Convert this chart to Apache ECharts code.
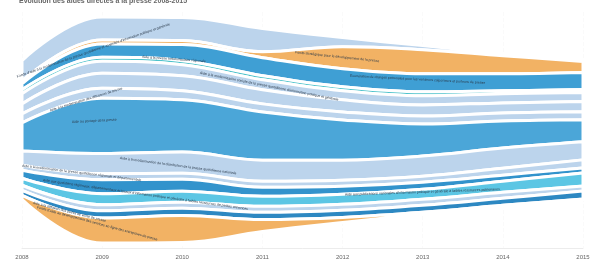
<!DOCTYPE html>
<html>
<head>
<meta charset="utf-8">
<title>Aides à la presse 2008-2015</title>
<script src="https://cdn.jsdelivr.net/npm/echarts@6/dist/echarts.min.js"></script>
<style>
  html, body { margin: 0; padding: 0; background: #fff; }
  #chart { width: 599px; height: 260px; }
</style>
</head>
<body>
<div id="chart"></div>
<script>
// années de l'axe
const years = [2008, 2009, 2010, 2011, 2012, 2013, 2014, 2015];

// noms des aides, dans l'ordre des flux (haut -> bas)
const names = [
  "Fonds d'aide à la modernisation de la presse quotidienne et assimilée d'information politique et générale",
  "Fonds stratégique pour le développement de la presse",
  "Exonération de charges patronales pour les vendeurs colporteurs et porteurs de presse",
  "Fonds d'aide à l'expansion de la presse française à l'étranger",
  "Aide à la presse hebdomadaire régionale",
  "Aide à la modernisation sociale de la presse quotidienne d'information politique et générale",
  "Aide à la modernisation des diffuseurs de presse",
  "Aide au portage de la presse",
  "Aide à la modernisation de la distribution de la presse quotidienne nationale",
  "Aide à la modernisation de la presse quotidienne régionale et départementale",
  "Aide aux quotidiens régionaux, départementaux et locaux d'information politique et générale à faibles ressources de petites annonces",
  "Aide aux publications nationales d'information politique et générale à faibles ressources publicitaires",
  "Aide à la distribution de la presse quotidienne d'information politique et générale",
  "Aide à la diffusion des points de vente de presse",
  "Fonds d'aide au développement des services en ligne des entreprises de presse"
];

// valeurs par année (estimées)
const fondsModernisation = [20, 23, 23, 23, 9, 4, 2, 1];
const fondsStrategique   = [3, 4, 4, 6, 22, 24, 18, 11];
const exoneration        = [6, 13, 16, 18, 18, 18, 17, 17];
const expansion          = [4, 4, 4, 4, 4, 4, 3, 3];
const hebdoRegionale     = [10, 12, 11, 10, 9, 9, 9, 9];
const modernSociale      = [10, 15, 15, 14, 12, 11, 10, 10];
const diffuseurs         = [9, 10, 9, 8, 8, 8, 8, 8];
const portage            = [28, 55, 52, 48, 40, 32, 27, 22];
const distributionPQN    = [14, 20, 21, 21, 20, 20, 20, 18];
const modernPQR          = [5, 6, 6, 6, 6, 6, 7, 8];
const petitesAnnonces    = [8, 14, 12, 9, 8, 7, 6, 5];
const faiblesRessources  = [7, 11, 11, 10, 10, 10, 11, 13];
const distributionIPG    = [5, 6, 6, 6, 6, 6, 6, 5];
const pointsDeVente      = [5, 7, 7, 7, 7, 7, 7, 8];
const servicesEnLigne    = [4, 25, 27, 12, 5, 2, 1, 0.5];

const layers = [
  fondsModernisation, fondsStrategique, exoneration, expansion, hebdoRegionale,
  modernSociale, diffuseurs, portage, distributionPQN, modernPQR,
  petitesAnnonces, faiblesRessources, distributionIPG, pointsDeVente, servicesEnLigne
];

// couleurs des flux
const colors = [
  '#bcd4ec', '#f2b264', '#3f9fd4', '#4ec3cb', '#bcd4ec',
  '#bcd4ec', '#bcd4ec', '#4ba6d8', '#bcd4ec', '#bcd4ec',
  '#3293cc', '#5cc6e4', '#bcd4ec', '#2d88c2', '#f2b264'
];

// flux sans étiquette
const noLabel = [names[3], names[12]];

// décalage des étiquettes par rapport au début du flux [dx, dy, rotation]
const labelShift = {};
labelShift[names[0]]  = [-1, 6, 19];
labelShift[names[1]]  = [277, -30, -6];
labelShift[names[2]]  = [332, -11, -3];
labelShift[names[4]]  = [124, -42, -4];
labelShift[names[5]]  = [182, -36, -11];
labelShift[names[6]]  = [32, -8, 17];
labelShift[names[7]]  = [54, -15, 3];
labelShift[names[8]]  = [102, 0, -7.5];
labelShift[names[9]]  = [4, -2, -7];
labelShift[names[10]] = [25, 6, -8];
labelShift[names[11]] = [327, 13, 2];
labelShift[names[13]] = [15, 10, -14];
labelShift[names[14]] = [19, 10, -15];

// données au format themeRiver [année, valeur, nom]
const riverData = [];
layers.forEach(function (values, i) {
  values.forEach(function (v, k) {
    riverData.push([years[k], v, names[i]]);
  });
});

const chart = echarts.init(document.getElementById('chart'));
const option = {
  color: colors,
  title: {
    text: 'Évolution des aides directes à la presse 2008-2015',
    left: 14,
    top: -7,
    textStyle: { fontSize: 7, fontWeight: 'bold', color: '#666' }
  },
  singleAxis: {
    type: 'value',
    min: 2008,
    max: 2015,
    interval: 1,
    left: 22,
    right: 16,
    top: 12,
    bottom: 12,
    axisTick: { show: false },
    axisLine: { lineStyle: { color: '#ececec' } },
    axisLabel: {
      fontSize: 6,
      color: '#666',
      margin: 6,
      formatter: function (v) { return String(v); }
    },
    splitLine: { show: true, lineStyle: { color: '#e8e8e8', width: 1 } }
  },
  series: [
    {
      type: 'themeRiver',
      boundaryGap: [5, 5],
      data: riverData,
      itemStyle: { borderColor: '#fff', borderWidth: 3 },
      emphasis: { disabled: true },
      label: {
        show: true,
        fontSize: 3.5,
        color: '#2b3a4a',
        align: 'left'
      },
      labelLayout: function (params) {
        if (noLabel.indexOf(params.text) >= 0) {
          return { fontSize: 0.01, dx: -2000 };
        }
        const s = labelShift[params.text];
        if (!s) return {};
        // dx/dy sont appliqués dans le repère tourné : on compense
        const r = s[2] * Math.PI / 180;
        const c = Math.cos(r), sn = Math.sin(r);
        return {
          dx: s[0] * c - s[1] * sn,
          dy: s[0] * sn + s[1] * c,
          rotate: s[2],
          align: 'left'
        };
      }
    }
  ]
};
chart.setOption(option);
</script>
</body>
</html>
